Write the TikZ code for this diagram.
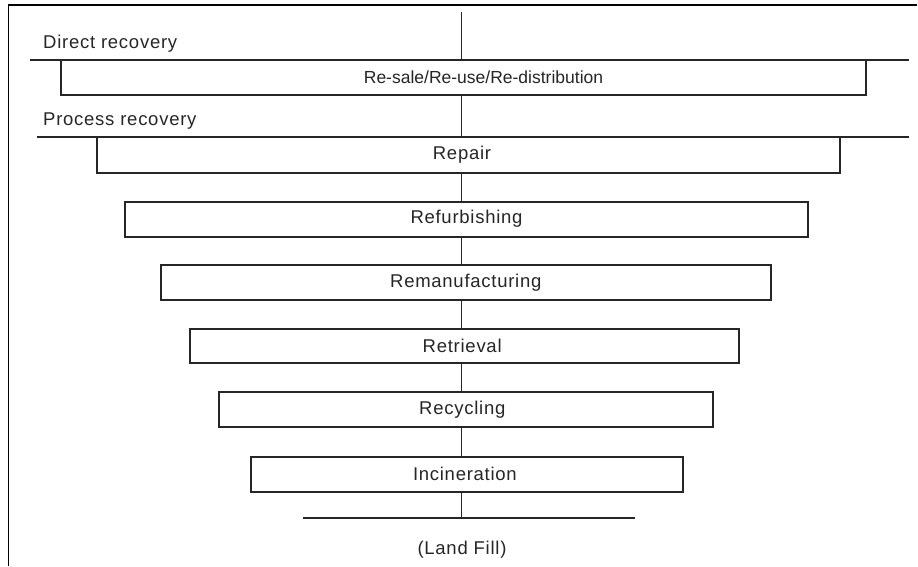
\documentclass[tikz,border=0pt]{standalone}
\usepackage{fontspec}
\setmainfont{Liberation Sans}[LetterSpace=4]
\newfontfamily\tightfont{Liberation Sans}
\newcommand{\shiftR}[2]{\hspace*{#1}#2}
\newcommand{\shiftL}[2]{#2\hspace*{#1}}
\begin{document}
\begin{tikzpicture}[x=1pt,y=-1pt,
  stagebox/.style={draw=black!85, line width=2pt, fill=white, inner sep=0pt,
    minimum height=35pt, font=\fontsize{18.5}{21}\selectfont, text=black!85},
  lbl/.style={inner sep=0pt, font=\fontsize{18.5}{21}\selectfont, text=black!85},
  axis/.style={draw=black!85, line width=1pt},
  tier/.style={draw=black!85, line width=2pt},
  framel/.style={draw=black, line width=1.5pt}]
\useasboundingbox (0,0) rectangle (918,566);
% frame
\coordinate (f1) at (917,5);
\coordinate (f2) at (8.5,5);
\coordinate (f3) at (8.5,566);
\draw[framel] (f1) -- (f2) -- (f3);
% tier lines
\coordinate (drL) at (30,59.5);
\coordinate (drR) at (909,59.5);
\coordinate (prL) at (37,137);
\coordinate (prR) at (909,137);
\draw[tier] (drL) -- (drR);
\draw[tier] (prL) -- (prR);
\node[lbl, anchor=west] (dr) at (43,44) {Direct recovery};
\node[lbl, anchor=west] (pr) at (43,121) {Process recovery};
% axis
\coordinate (top) at (461.5,12);
\coordinate (lf) at (461.5,518);
\coordinate (lfL) at (303,518);
\coordinate (lfR) at (635,518);
% boxes
\node[stagebox, minimum width=805pt, minimum height=35.5pt, font=\tightfont\fontsize{17.5}{20}\selectfont] (b1) at (463.5,77.5) {\shiftR{40pt}{Re-sale/Re-use/Re-distribution}};
\node[stagebox, minimum width=743pt, minimum height=36.5pt] (b2) at (468.5,155) {\shiftL{13pt}{Repair}};
\node[stagebox, minimum width=683pt] (b3) at (466.5,219.2) {Refurbishing};
\node[stagebox, minimum width=610pt] (b4) at (465.8,282.5) {Remanufacturing};
\node[stagebox, minimum width=549pt, minimum height=34pt] (b5) at (464.2,345.8) {\shiftL{4pt}{Retrieval}};
\node[stagebox, minimum width=494pt] (b6) at (466.3,409.8) {\shiftL{8pt}{Recycling}};
\node[stagebox, minimum width=432pt] (b7) at (466.9,474.2) {\shiftL{4pt}{Incineration}};
% axis segments
\draw[axis] (top) -- (b1.north -| top);
\draw[axis] (b1.south -| top) -- (b2.north -| top);
\draw[axis] (b2.south -| top) -- (b3.north -| top);
\draw[axis] (b3.south -| top) -- (b4.north -| top);
\draw[axis] (b4.south -| top) -- (b5.north -| top);
\draw[axis] (b5.south -| top) -- (b6.north -| top);
\draw[axis] (b6.south -| top) -- (b7.north -| top);
\draw[axis] (b7.south -| top) -- (lf);
\draw[draw=black!85, line width=2.5pt] (lfL) -- (lfR);
\node[lbl] (lft) at (462,549.5) {(Land Fill)};
\end{tikzpicture}
\end{document}
